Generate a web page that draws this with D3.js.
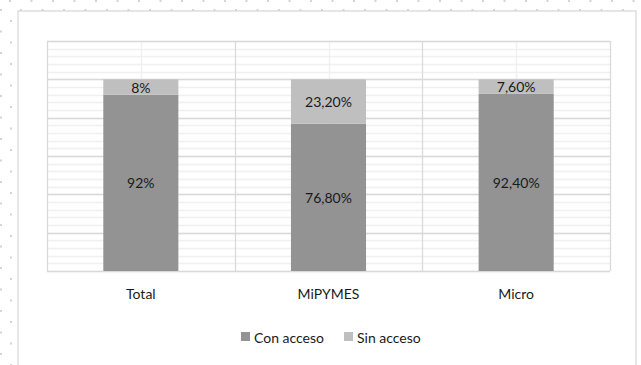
<!DOCTYPE html>
<html><head><meta charset="utf-8">
<script src="https://cdn.jsdelivr.net/npm/d3@7/dist/d3.min.js"></script>
<style>
html,body{margin:0;padding:0;background:#fff;}
svg{display:block;}
</style></head>
<body>
<script>
const categories = ["Total", "MiPYMES", "Micro"];
const conAcceso = [0.92, 0.768, 0.924];
const sinAcceso = [0.08, 0.232, 0.076];
const conLabels = ["92%", "76,80%", "92,40%"];
const sinLabels = ["8%", "23,20%", "7,60%"];
const seriesNames = ["Con acceso", "Sin acceso"];

(function () {
const W = 641, H = 365;
const svg = d3.select("body").append("svg").attr("width", W).attr("height", H);
const font = "Lato, 'Open Sans', sans-serif";

// dotted page background
const dotsG = svg.append("g").attr("fill", "#d4d4d4");
const step = 21.5;
for (let i = 0; i < 31; i++) {
  dotsG.append("rect").attr("x", 10 + i * step - 1).attr("y", 0).attr("width", 2).attr("height", 2);
  dotsG.append("rect").attr("x", 21 + i * step - 1).attr("y", 9).attr("width", 2).attr("height", 2);
}
for (let j = 0; j < 18; j++) {
  dotsG.append("rect").attr("x", 0).attr("y", 10 + j * step - 1).attr("width", 2).attr("height", 2);
  dotsG.append("rect").attr("x", 10).attr("y", 21 + j * step - 1).attr("width", 2).attr("height", 2);
}

// chart frame
svg.append("rect").attr("x", 18).attr("y", 11).attr("width", 618).attr("height", 400)
  .attr("fill", "#fff").attr("stroke", "#d9d9d9").attr("stroke-width", 1.3);

const pL = 47, pR = 610, pT = 41, pB = 271;
const x = d3.scaleBand().domain(categories).range([pL, pR]).paddingInner(0.6).paddingOuter(0.3);
const xc = d3.scaleBand().domain(categories).range([pL, pR]);
const y = d3.scaleLinear().domain([0, 1.2]).range([pB, pT]);

// minor horizontal grid
const minorTicks = d3.range(0, 121, 4).map(v => v / 100);
svg.append("g").selectAll("line").data(minorTicks).join("line")
  .attr("x1", pL).attr("x2", pR)
  .attr("y1", d => Math.round(y(d)) + 0.5).attr("y2", d => Math.round(y(d)) + 0.5)
  .attr("stroke", "#f0f0f0").attr("stroke-width", 1.5);
// minor vertical grid at category centres
svg.append("g").selectAll("line").data(categories).join("line")
  .attr("x1", d => Math.round(xc(d) + xc.bandwidth() / 2) + 0.5)
  .attr("x2", d => Math.round(xc(d) + xc.bandwidth() / 2) + 0.5)
  .attr("y1", pT).attr("y2", pB)
  .attr("stroke", "#f0f0f0").attr("stroke-width", 1.5);
// major horizontal grid
const majorTicks = d3.range(0, 121, 20).map(v => v / 100);
svg.append("g").selectAll("line").data(majorTicks).join("line")
  .attr("x1", pL).attr("x2", pR)
  .attr("y1", d => Math.round(y(d)) + 0.5).attr("y2", d => Math.round(y(d)) + 0.5)
  .attr("stroke", "#d9d9d9").attr("stroke-width", 1.3);
// major vertical grid at category boundaries
const bounds = categories.map(c => xc(c)).concat([pR]);
svg.append("g").selectAll("line").data(bounds).join("line")
  .attr("x1", d => Math.round(d) + 0.5).attr("x2", d => Math.round(d) + 0.5)
  .attr("y1", pT).attr("y2", pB)
  .attr("stroke", "#d9d9d9").attr("stroke-width", 1.3);

const colors = ["#939393", "#bfbfbf"];
const data = categories.map((c, i) => ({ c, con: conAcceso[i], sin: sinAcceso[i], cl: conLabels[i], sl: sinLabels[i] }));

// bars
svg.append("g").selectAll("rect").data(data).join("rect")
  .attr("x", d => x(d.c)).attr("width", x.bandwidth())
  .attr("y", d => y(d.con)).attr("height", d => y(0) - y(d.con))
  .attr("fill", colors[0]);
svg.append("g").selectAll("rect").data(data).join("rect")
  .attr("x", d => x(d.c)).attr("width", x.bandwidth())
  .attr("y", d => y(d.con + d.sin)).attr("height", d => y(d.con) - y(d.con + d.sin))
  .attr("fill", colors[1]);

// value labels
const lab = svg.append("g").attr("font-family", font).attr("font-size", 14).attr("fill", "#1a1a1a")
  .attr("text-anchor", "middle").attr("dominant-baseline", "central");
data.forEach(d => {
  lab.append("text").attr("x", x(d.c) + x.bandwidth() / 2).attr("y", (y(0) + y(d.con)) / 2).text(d.cl);
  lab.append("text").attr("x", x(d.c) + x.bandwidth() / 2).attr("y", (y(d.con) + y(d.con + d.sin)) / 2).text(d.sl);
});

// category axis labels
svg.append("g").selectAll("text").data(categories).join("text")
  .attr("x", d => xc(d) + xc.bandwidth() / 2).attr("y", 293)
  .attr("text-anchor", "middle").attr("dominant-baseline", "central")
  .attr("font-family", font).attr("font-size", 14).attr("fill", "#1a1a1a").text(d => d);

// legend
const legendX = [241, 344];
const lg = svg.append("g");
seriesNames.forEach((s, i) => {
  lg.append("rect").attr("x", legendX[i]).attr("y", 332).attr("width", 9).attr("height", 9).attr("fill", colors[i]);
  lg.append("text").attr("x", legendX[i] + 13).attr("y", 337).attr("dominant-baseline", "central")
    .attr("font-family", font).attr("font-size", 14).attr("fill", "#1a1a1a").text(s);
});
})();
</script>
</body></html>
